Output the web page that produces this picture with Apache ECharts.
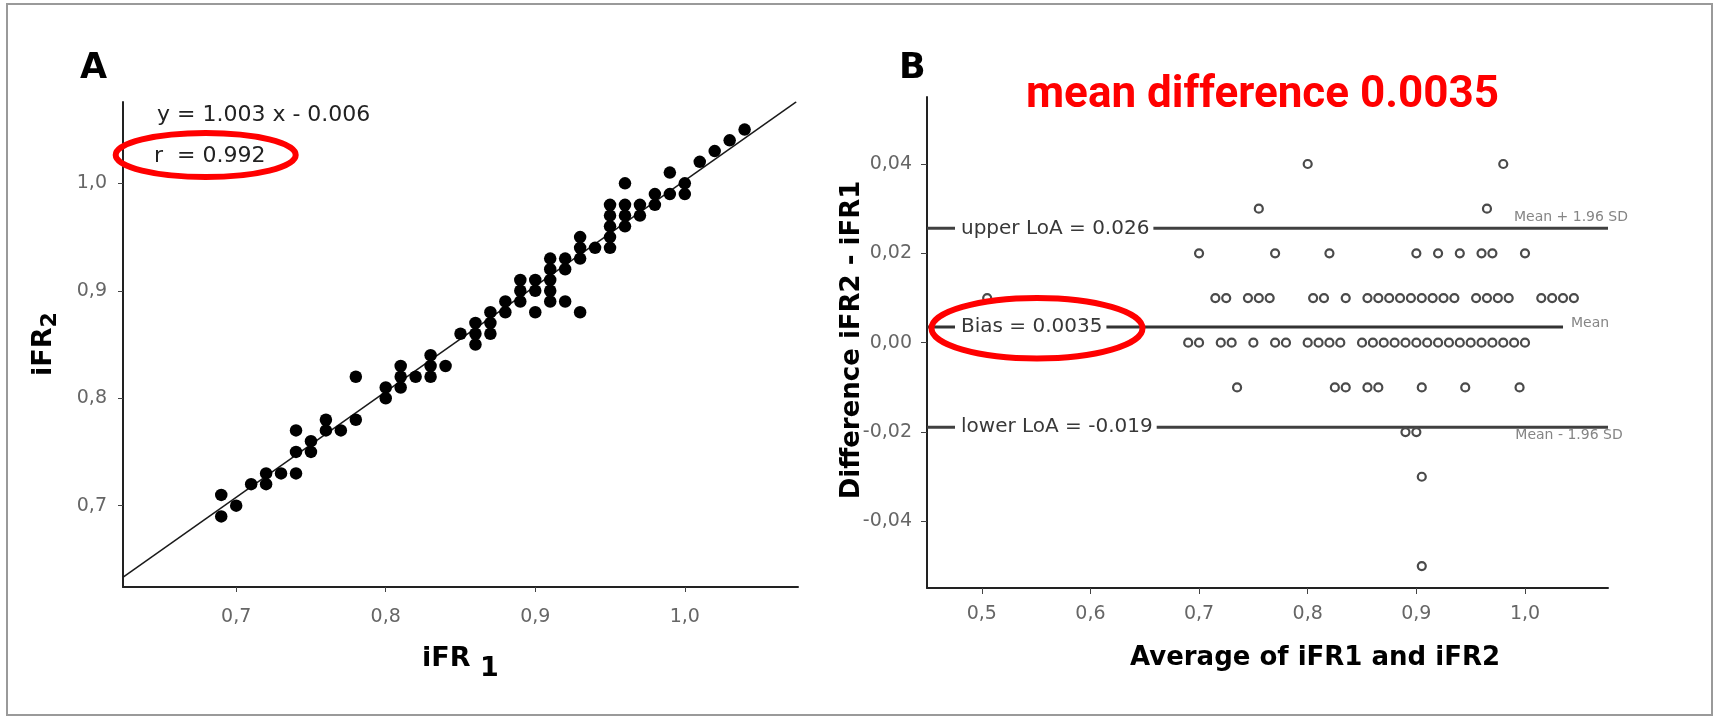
<!DOCTYPE html>
<html>
<head>
<meta charset="utf-8">
<script src="https://cdn.jsdelivr.net/npm/echarts@6/dist/echarts.min.js"></script>
<style>
html,body{margin:0;padding:0;background:#fff;}
#c{width:1719px;height:717px;}
</style>
</head>
<body>
<div id="c"></div>
<script>
// ---- Panel A: iFR1 vs iFR2 ----
const iFR1 = [0.69,0.69,0.70,0.71,0.72,0.72,0.73,0.74,0.74,0.74,0.75,0.75,0.76,0.76,0.77,0.78,0.78,
  0.80,0.80,0.81,0.81,0.81,0.82,0.83,0.83,0.83,0.84,0.85,
  0.86,0.86,0.86,0.87,0.87,0.87,0.88,0.88,0.89,0.89,0.89,0.90,0.90,0.90,0.91,0.91,0.91,0.91,0.91,0.92,0.92,0.92,0.93,0.93,0.93,0.93,0.94,
  0.95,0.95,0.95,0.95,0.95,0.96,0.96,0.96,0.96,0.97,0.97,0.98,0.98,0.99,0.99,1.00,1.00,1.01,1.02,1.03,1.04];
const iFR2 = [0.69,0.71,0.70,0.72,0.73,0.72,0.73,0.73,0.75,0.77,0.75,0.76,0.77,0.78,0.77,0.78,0.82,
  0.80,0.81,0.81,0.82,0.83,0.82,0.82,0.83,0.84,0.83,0.86,
  0.85,0.86,0.87,0.86,0.87,0.88,0.88,0.89,0.89,0.90,0.91,0.88,0.90,0.91,0.89,0.90,0.91,0.92,0.93,0.89,0.92,0.93,0.88,0.93,0.94,0.95,0.94,
  0.94,0.95,0.96,0.97,0.98,0.96,0.97,0.98,1.00,0.97,0.98,0.98,0.99,0.99,1.01,0.99,1.00,1.02,1.03,1.04,1.05];
const fitLineX = [0.6244, 1.0745];
const fitLineY = [0.6334, 1.0759];
const axisRangeA = [0.6243, 1.0757];
const ticksA = [0.7, 0.8, 0.9, 1.0];

// ---- Panel B: Bland-Altman ----
const baAvg = [0.80,0.98,
  0.755,0.965,
  0.70,0.77,0.82,0.90,0.92,0.94,0.96,0.97,1.00,
  0.505,0.715,0.725,0.745,0.755,0.765,0.805,0.815,0.835,0.855,0.865,0.875,0.885,0.895,0.905,0.915,0.925,0.935,0.955,0.965,0.975,0.985,1.015,1.025,1.035,1.045,
  0.69,0.70,0.72,0.73,0.75,0.77,0.78,0.80,0.81,0.82,0.83,0.85,0.86,0.87,0.88,0.89,0.90,0.91,0.92,0.93,0.94,0.95,0.96,0.97,0.98,0.99,1.00,
  0.735,0.825,0.835,0.855,0.865,0.905,0.945,0.995,
  0.89,0.90,
  0.905,
  0.905];
const baDiff = [0.04,0.04,
  0.03,0.03,
  0.02,0.02,0.02,0.02,0.02,0.02,0.02,0.02,0.02,
  0.01,0.01,0.01,0.01,0.01,0.01,0.01,0.01,0.01,0.01,0.01,0.01,0.01,0.01,0.01,0.01,0.01,0.01,0.01,0.01,0.01,0.01,0.01,0.01,0.01,0.01,
  0,0,0,0,0,0,0,0,0,0,0,0,0,0,0,0,0,0,0,0,0,0,0,0,0,0,0,
  -0.01,-0.01,-0.01,-0.01,-0.01,-0.01,-0.01,-0.01,
  -0.02,-0.02,
  -0.03,
  -0.05];
const biasValue = 0.0035;
const upperLoA = 0.0256;
const lowerLoA = -0.0189;
const meanLineEnd = 1.035;
const axisRangeBx = [0.4496, 1.0764];
const axisRangeBy = [-0.0549, 0.0550];
const ticksBx = [0.5, 0.6, 0.7, 0.8, 0.9, 1.0];
const ticksBy = [-0.04, -0.02, 0, 0.02, 0.04];
const labelUpper = 'upper LoA = 0.026';
const labelBias = 'Bias = 0.0035';
const labelLower = 'lower LoA = -0.019';

const FONT = '"DejaVu Sans", sans-serif';
const tickColor = '#666';
const axisLineStyle = {color: '#222', width: 2};

const chart = echarts.init(document.getElementById('c'), null, {renderer: 'canvas'});

function comma(d) { return v => Number(v).toFixed(d).replace('.', ','); }

function loaLabel(text) {
  return {show: true, position: 'right', distance: 27, formatter: text,
    fontFamily: FONT, fontSize: 20, color: '#383838', backgroundColor: '#fff', padding: [3, 4, 3, 6]};
}
function sdLabel(text, pos, off, dist) {
  return {show: true, position: pos, distance: dist, offset: off, formatter: text,
    fontFamily: FONT, fontSize: 14, color: '#858585'};
}

const option = {
  animation: false,
  backgroundColor: '#fff',
  grid: [
    {left: 123, top: 102, width: 675, height: 485, outerBoundsMode: 'none', containLabel: false},
    {left: 927, top: 97, width: 681, height: 491, outerBoundsMode: 'none', containLabel: false}
  ],
  xAxis: [
    {type: 'value', gridIndex: 0, min: axisRangeA[0], max: axisRangeA[1],
      axisLine: {show: true, onZero: false, lineStyle: axisLineStyle},
      axisTick: {show: true, length: 5, customValues: ticksA, lineStyle: {color: '#444'}},
      axisLabel: {customValues: ticksA, formatter: comma(1), margin: 21, color: tickColor, fontFamily: FONT, fontSize: 19},
      splitLine: {show: false}},
    {type: 'value', gridIndex: 1, min: axisRangeBx[0], max: axisRangeBx[1],
      axisLine: {show: true, onZero: false, lineStyle: axisLineStyle},
      axisTick: {show: true, length: 6, customValues: ticksBx, lineStyle: {color: '#444'}},
      axisLabel: {customValues: ticksBx, formatter: comma(1), margin: 17, color: tickColor, fontFamily: FONT, fontSize: 19},
      splitLine: {show: false}}
  ],
  yAxis: [
    {type: 'value', gridIndex: 0, min: axisRangeA[0], max: axisRangeA[1],
      axisLine: {show: true, onZero: false, lineStyle: axisLineStyle},
      axisTick: {show: true, length: 5, customValues: ticksA, lineStyle: {color: '#444'}},
      axisLabel: {customValues: ticksA, formatter: comma(1), margin: 16, color: tickColor, fontFamily: FONT, fontSize: 19},
      splitLine: {show: false}},
    {type: 'value', gridIndex: 1, min: axisRangeBy[0], max: axisRangeBy[1],
      axisLine: {show: true, onZero: false, lineStyle: axisLineStyle},
      axisTick: {show: true, length: 6, customValues: ticksBy, lineStyle: {color: '#444'}},
      axisLabel: {customValues: ticksBy, formatter: comma(2), margin: 15, color: tickColor, fontFamily: FONT, fontSize: 19},
      splitLine: {show: false}}
  ],
  series: [
    {type: 'line', xAxisIndex: 0, yAxisIndex: 0, z: 2, silent: true,
      data: fitLineX.map((x, i) => [x, fitLineY[i]]), symbol: 'none',
      lineStyle: {color: '#1a1a1a', width: 1.5}},
    {type: 'scatter', xAxisIndex: 0, yAxisIndex: 0, z: 3, silent: true,
      data: iFR1.map((x, i) => [x, iFR2[i]]), symbol: 'circle', symbolSize: 12.5,
      itemStyle: {color: '#000', opacity: 1}},
    {type: 'line', xAxisIndex: 1, yAxisIndex: 1, z: 2, silent: true,
      symbol: 'circle', symbolSize: 2, itemStyle: {color: 'rgba(0,0,0,0)'},
      lineStyle: {color: '#404040', width: 3},
      data: [{value: [axisRangeBx[0], upperLoA], label: loaLabel(labelUpper)},
             {value: [axisRangeBx[1], upperLoA], label: sdLabel('Mean + 1.96 SD', 'top', [-37, 0], 3)}]},
    {type: 'line', xAxisIndex: 1, yAxisIndex: 1, z: 2, silent: true,
      symbol: 'circle', symbolSize: 2, itemStyle: {color: 'rgba(0,0,0,0)'},
      lineStyle: {color: '#333', width: 3},
      data: [{value: [axisRangeBx[0], biasValue], label: loaLabel(labelBias)},
             {value: [meanLineEnd, biasValue], label: sdLabel('Mean', 'right', [0, -4], 7)}]},
    {type: 'line', xAxisIndex: 1, yAxisIndex: 1, z: 2, silent: true,
      symbol: 'circle', symbolSize: 2, itemStyle: {color: 'rgba(0,0,0,0)'},
      lineStyle: {color: '#404040', width: 3},
      data: [{value: [axisRangeBx[0], lowerLoA], label: loaLabel(labelLower)},
             {value: [axisRangeBx[1], lowerLoA], label: sdLabel('Mean - 1.96 SD', 'bottom', [-39, 0], 0)}]},
    {type: 'scatter', xAxisIndex: 1, yAxisIndex: 1, z: 4, silent: true,
      data: baAvg.map((x, i) => [x, baDiff[i]]), symbol: 'circle', symbolSize: 8,
      itemStyle: {color: '#fff', borderColor: '#4a4a4a', borderWidth: 2.2, opacity: 1}}
  ],
  graphic: [
    {type: 'rect', z: 0, silent: true, shape: {x: 7, y: 4, width: 1705, height: 711},
      style: {fill: 'none', stroke: '#9a9a9a', lineWidth: 2}},
    {type: 'text', z: 50, x: 80, y: 69, style: {text: 'A', fontFamily: FONT, fontWeight: 'bold', fontSize: 35, fill: '#000', align: 'left', verticalAlign: 'middle'}},
    {type: 'text', z: 50, x: 899, y: 69, style: {text: 'B', fontFamily: FONT, fontWeight: 'bold', fontSize: 35, fill: '#000', align: 'left', verticalAlign: 'middle'}},
    {type: 'text', z: 50, x: 157, y: 115, style: {text: 'y = 1.003 x - 0.006', fontFamily: FONT, fontSize: 22, fill: '#222', align: 'left', verticalAlign: 'middle'}},
    {type: 'text', z: 50, x: 154, y: 156, style: {text: 'r  = 0.992', fontFamily: FONT, fontSize: 22, fill: '#222', align: 'left', verticalAlign: 'middle'}},
    {type: 'text', z: 50, x: 1026, y: 96, style: {text: 'mean difference 0.0035', fontFamily: 'Roboto, sans-serif', fontWeight: 'bold', fontSize: 44, fill: '#ff0000', align: 'left', verticalAlign: 'middle'}},
    // axis titles
    {type: 'text', z: 50, x: 422, y: 645, style: {text: '{a|iFR }{b|1}', align: 'left', verticalAlign: 'top',
      rich: {a: {fontFamily: FONT, fontWeight: 'bold', fontSize: 27, lineHeight: 30, verticalAlign: 'top', fill: '#000'},
             b: {fontFamily: FONT, fontWeight: 'bold', fontSize: 27, lineHeight: 30, padding: [10, 0, 0, 0], verticalAlign: 'top', fill: '#000'}}}},
    {type: 'text', z: 50, x: 45, y: 344, rotation: Math.PI / 2, style: {text: '{a|iFR}{b|2}', align: 'center', verticalAlign: 'middle',
      rich: {a: {fontFamily: FONT, fontWeight: 'bold', fontSize: 27, lineHeight: 30, verticalAlign: 'top', fill: '#000'},
             b: {fontFamily: FONT, fontWeight: 'bold', fontSize: 22, lineHeight: 24, padding: [9, 0, 0, 0], verticalAlign: 'top', fill: '#000'}}}},
    {type: 'text', z: 50, x: 852, y: 340, rotation: Math.PI / 2, style: {text: 'Difference iFR2 - iFR1', fontFamily: FONT, fontWeight: 'bold', fontSize: 26, fill: '#000', align: 'center', verticalAlign: 'middle'}},
    {type: 'text', z: 50, x: 1315, y: 658, style: {text: 'Average of iFR1 and iFR2', fontFamily: FONT, fontWeight: 'bold', fontSize: 26, fill: '#000', align: 'center', verticalAlign: 'middle'}},
    // red highlight ellipses
    {type: 'ellipse', z: 100, silent: true, shape: {cx: 205.7, cy: 155, rx: 90, ry: 22}, style: {fill: 'none', stroke: '#ff0000', lineWidth: 6}},
    {type: 'ellipse', z: 100, silent: true, shape: {cx: 1037, cy: 328.3, rx: 105.5, ry: 30.3}, style: {fill: 'none', stroke: '#ff0000', lineWidth: 6}}
  ]
};
chart.setOption(option);
</script>
</body>
</html>
